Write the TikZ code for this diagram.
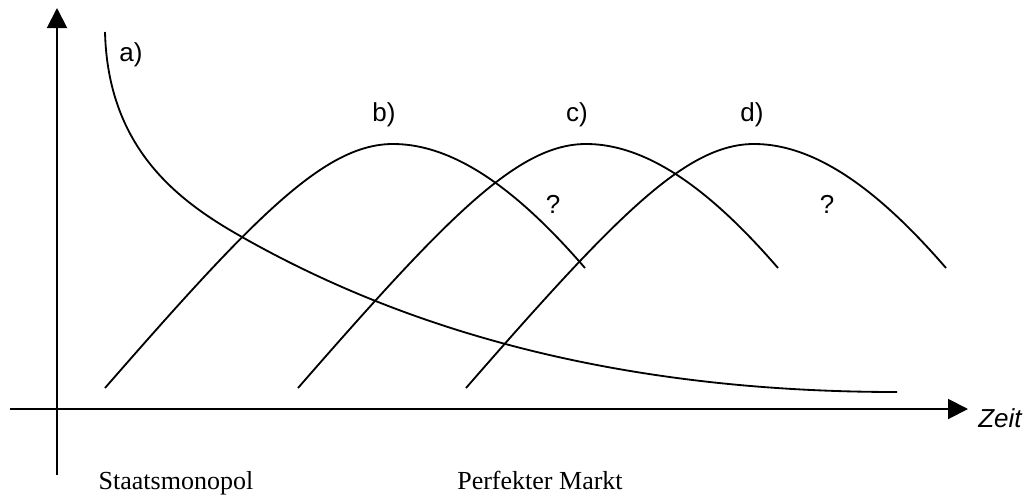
\documentclass[tikz,border=0pt]{standalone}
\usepackage{fontspec}
\setmainfont{Liberation Serif}
\setsansfont{Liberation Sans}
\usetikzlibrary{arrows.meta}

\begin{document}
\begin{tikzpicture}[
  x=0.025cm, y=-0.025cm,
  axis/.style={-{Triangle[length=0.5cm, width=0.5cm]}, line width=1.4pt},
  curve/.style={line width=1.3pt},
  lbl/.style={anchor=base, inner sep=0pt, font=\sffamily\fontsize{18.5}{22}\selectfont},
  stage/.style={anchor=base, inner sep=0pt, font=\rmfamily\fontsize{18.5}{22}\selectfont}
]
\useasboundingbox (0,0) rectangle (1026,495);

% AXES
\coordinate (ybot) at (57,475);
\coordinate (ytop) at (57,8);
\coordinate (xleft) at (10,409);
\coordinate (xright) at (968,409);
\draw[axis] (ybot) -- (ytop);
\draw[axis] (xleft) -- (xright);
\node[lbl, anchor=base west, font=\sffamily\itshape\fontsize{18.5}{22}\selectfont] (zeit) at (978,427) {Zeit};

% CURVE a)
\draw[curve] (105,32) .. controls (108,150) and (180,202) .. (242,237) .. controls (392,322) and (600,392) .. (897,392);
\node[lbl] (labela) at (131,61) {a)};

% CURVES b) c) d)
\foreach \s in {105, 298, 466}
  \draw[curve] (\s,388) .. controls (\s+150,216) and (\s+220,144) .. (\s+288,144) .. controls (\s+352,144) and (\s+416,194) .. (\s+480,268);
\node[lbl] (labelb) at (384,121) {b)};
\node[lbl] (labelc) at (577,121) {c)};
\node[lbl] (labeld) at (752,121) {d)};
\node[lbl] (quest1) at (553,213) {?};
\node[lbl] (quest2) at (827,213) {?};

% STAGES
\node[stage] (staat) at (176,489) {Staatsmonopol};
\node[stage] (markt) at (540,489) {Perfekter Markt};

\end{tikzpicture}
\end{document}
